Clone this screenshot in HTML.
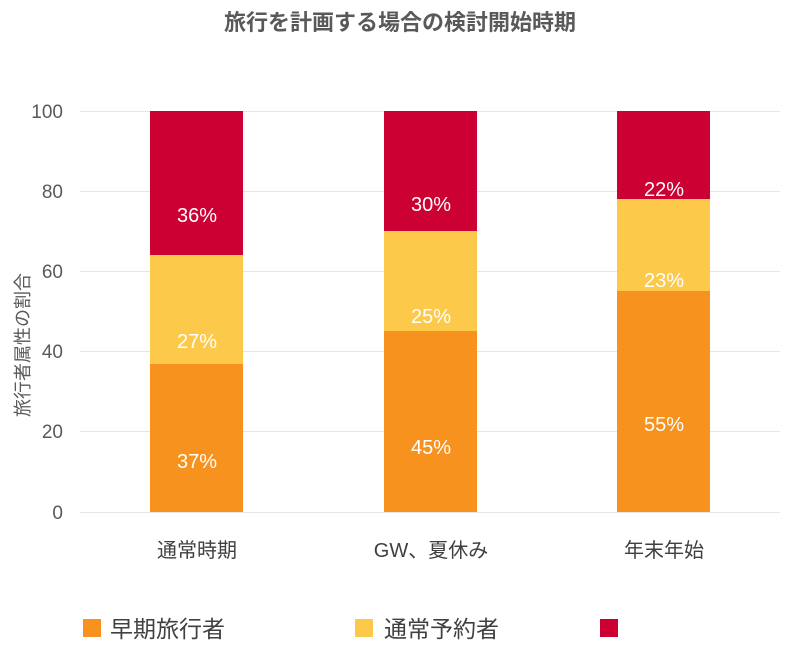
<!DOCTYPE html>
<html><head><meta charset="utf-8"><style>
body{margin:0;background:#fff;}
svg text{font-family:"Liberation Sans","Noto Sans CJK JP",sans-serif;}
</style></head><body>
<svg width="800" height="653" xmlns="http://www.w3.org/2000/svg">
<rect width="800" height="653" fill="#fff"/>
<text x="400" y="30" text-anchor="middle" font-size="22" font-weight="bold" fill="#595959">旅行を計画する場合の検討開始時期</text>
<g stroke="#e6e6e6" stroke-width="1">
<line x1="80" x2="780" y1="111.5" y2="111.5"/>
<line x1="80" x2="780" y1="191.5" y2="191.5"/>
<line x1="80" x2="780" y1="271.5" y2="271.5"/>
<line x1="80" x2="780" y1="351.5" y2="351.5"/>
<line x1="80" x2="780" y1="431.5" y2="431.5"/>
<line x1="80" x2="780" y1="512.5" y2="512.5"/>
</g>
<g font-size="19" fill="#595959" text-anchor="end">
<text x="63" y="118">100</text>
<text x="63" y="198">80</text>
<text x="63" y="278">60</text>
<text x="63" y="358">40</text>
<text x="63" y="438">20</text>
<text x="63" y="519">0</text>
</g>
<text transform="translate(29,345) rotate(-90)" text-anchor="middle" font-size="18" fill="#595959">旅行者属性の割合</text>
<rect x="150" y="111" width="93" height="144" fill="#cc0033"/>
<rect x="150" y="255" width="93" height="109" fill="#fdc94a"/>
<rect x="150" y="364" width="93" height="148" fill="#f7921e"/>
<rect x="384" y="111" width="93" height="120" fill="#cc0033"/>
<rect x="384" y="231" width="93" height="100" fill="#fdc94a"/>
<rect x="384" y="331" width="93" height="181" fill="#f7921e"/>
<rect x="617" y="111" width="93" height="88" fill="#cc0033"/>
<rect x="617" y="199" width="93" height="92" fill="#fdc94a"/>
<rect x="617" y="291" width="93" height="221" fill="#f7921e"/>
<g font-size="20" fill="#fff" text-anchor="middle">
<text x="197" y="222">36%</text>
<text x="197" y="348">27%</text>
<text x="197" y="468">37%</text>
<text x="431" y="211">30%</text>
<text x="431" y="323">25%</text>
<text x="431" y="454">45%</text>
<text x="664" y="196">22%</text>
<text x="664" y="287">23%</text>
<text x="664" y="431">55%</text>
</g>
<g font-size="20" fill="#404040" text-anchor="middle">
<text x="197" y="557">通常時期</text>
<text x="431" y="557">GW、夏休み</text>
<text x="664" y="557">年末年始</text>
</g>
<rect x="83" y="619" width="18" height="18" fill="#f7921e"/>
<text x="110" y="637" font-size="23" fill="#404040">早期旅行者</text>
<rect x="355" y="619" width="18" height="18" fill="#fdc94a"/>
<text x="384" y="637" font-size="23" fill="#404040">通常予約者</text>
<rect x="600" y="619" width="18" height="18" fill="#cc0033"/>
</svg>
</body></html>
